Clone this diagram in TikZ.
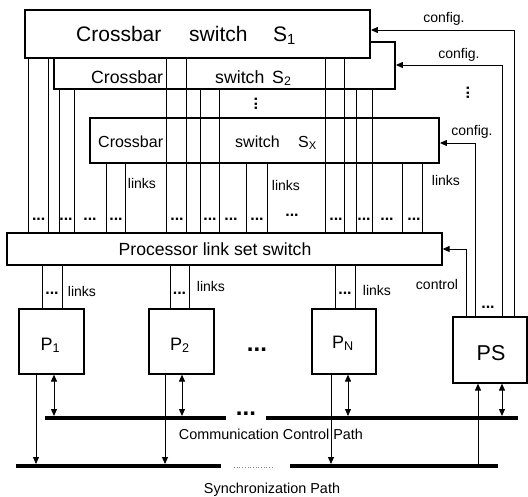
\documentclass[tikz,border=0pt]{standalone}
\usepackage{fontspec}
\setmainfont{Liberation Sans}
\usetikzlibrary{arrows.meta}
\begin{document}
\begin{tikzpicture}[x=1pt,y=-1pt,
  sbox/.style={draw, line width=1.8pt, fill=white, inner sep=0pt},
  pbox/.style={draw, line width=1.2pt, fill=white, inner sep=0pt},
  wire/.style={line width=1pt},
  arr/.style={line width=1pt, -{Triangle[length=7pt,width=6pt]}},
  rarr/.style={line width=1pt, {Triangle[length=7pt,width=6pt]}-},
  darr/.style={line width=1pt, {Triangle[length=7pt,width=6pt]}-{Triangle[length=7pt,width=6pt]}},
  bar/.style={line width=4pt},
  lbl/.style={inner sep=0pt, anchor=base, font=\fontsize{14}{14}\selectfont},
  dotlab/.style={inner sep=0pt, font=\bfseries\fontsize{16}{16}\selectfont},
  bigdots/.style={inner sep=0pt, font=\bfseries\fontsize{24}{24}\selectfont},
]
\useasboundingbox (0,0) rectangle (528,496);

% crossbar switches (back to front)
\node[sbox, minimum width=349pt, minimum height=45pt] (Sx) at (264.5,140.5) {};
\node[sbox, minimum width=341pt, minimum height=47pt] (S2) at (224.5,65.5) {};
\node[sbox, minimum width=345pt, minimum height=48pt] (S1) at (197.5,34) {};

\node[inner sep=0pt, anchor=base west, font=\fontsize{21}{21}\selectfont] (s1a) at (76,41) {Crossbar};
\node[inner sep=0pt, anchor=base west, font=\fontsize{21}{21}\selectfont] (s1b) at (189,41) {switch};
\node[inner sep=0pt, anchor=base west, font=\fontsize{21}{21}\selectfont] (s1c) at (273,41) {S\textsubscript{1}};

\node[inner sep=0pt, anchor=base west, font=\fontsize{17.7}{17.7}\selectfont] (s2a) at (91,83) {Crossbar};
\node[inner sep=0pt, anchor=base west, font=\fontsize{17.7}{17.7}\selectfont] (s2b) at (215,83) {switch};
\node[inner sep=0pt, anchor=base west, font=\fontsize{17.7}{17.7}\selectfont] (s2c) at (272,83) {S\textsubscript{2}};

\node[inner sep=0pt, anchor=base west, font=\fontsize{16}{16}\selectfont] (sxa) at (98,147) {Crossbar};
\node[inner sep=0pt, anchor=base west, font=\fontsize{16}{16}\selectfont] (sxb) at (235,147) {switch};
\node[inner sep=0pt, anchor=base west, font=\fontsize{16}{16}\selectfont] (sxc) at (298,147) {S\textsubscript{X}};

% processor link set switch
\node[pbox, line width=1.3pt, minimum width=435pt, minimum height=32pt] (PL) at (224.5,249) {};
\node[inner sep=0pt, anchor=base, font=\fontsize{17.6}{17.6}\selectfont] (plt) at (215,255) {Processor link set switch};

% links from switches
\foreach \x in {28.6,48.8,166.7,186,325.6,344.4} \draw[wire] (S1.south -| \x,0) -- (PL.north -| \x,0);
\foreach \x in {59,74,200,219,356,372} \draw[wire] (S2.south -| \x,0) -- (PL.north -| \x,0);
\foreach \x in {106,125,246.5,267,402,422} \draw[wire] (Sx.south -| \x,0) -- (PL.north -| \x,0);

\foreach \x/\n in {38.7/a,66/b,90/c,116/d,177/e,210/f,231/g,257/h,336/i,364/j,387/k,414/l}
  \node[dotlab] (dt\n) at (\x,219) {...};
\node[dotlab] (dtm) at (292,215) {...};

\node[lbl] (lk1) at (142,188) {links};
\node[lbl] (lk2) at (286,190) {links};
\node[lbl] (lk3) at (446,185) {links};

% vertical dots
\node[dotlab, rotate=90] (vd1) at (256,104) {...};
\node[dotlab, rotate=90] (vd2) at (468,93) {...};

% processors
\node[pbox, minimum width=65pt, minimum height=65pt] (P1) at (51.5,341.5) {};
\node[pbox, minimum width=65pt, minimum height=65pt] (P2) at (181.5,341.5) {};
\node[pbox, minimum width=64pt, minimum height=65pt] (PN) at (344,341.5) {};
\node[pbox, minimum width=74pt, minimum height=66pt] (PS) at (490,350) {};

\node[inner sep=0pt, anchor=base, font=\fontsize{18}{18}\selectfont] (p1t) at (50.5,350) {P\textsubscript{1}};
\node[inner sep=0pt, anchor=base, font=\fontsize{18}{18}\selectfont] (p2t) at (180,350) {P\textsubscript{2}};
\node[inner sep=0pt, anchor=base, font=\fontsize{18}{18}\selectfont] (pnt) at (343,348) {P\textsubscript{N}};
\node[inner sep=0pt, anchor=base, font=\fontsize{21.5}{21.5}\selectfont] (pst) at (491,360) {PS};
\node[bigdots] (pdots) at (257,350) {...};

% processor links
\foreach \x in {42,62} \draw[wire] (PL.south -| \x,0) -- (P1.north -| \x,0);
\foreach \x in {170,189} \draw[wire] (PL.south -| \x,0) -- (P2.north -| \x,0);
\foreach \x in {335,355} \draw[wire] (PL.south -| \x,0) -- (PN.north -| \x,0);
\node[dotlab] (pd1) at (52,293) {...};
\node[dotlab] (pd2) at (179.5,293) {...};
\node[dotlab] (pdn) at (345,293) {...};
\node[lbl] (pl1) at (82,296) {links};
\node[lbl] (pl2) at (211,291) {links};
\node[lbl] (pln) at (377,295) {links};

% configuration / control from PS
\draw[arr] (PS.north -| 514,0) |- (S1.east |- 0,30);
\draw[arr] (PS.north -| 502,0) |- (S2.east |- 0,65);
\draw[arr] (PS.north -| 475,0) |- (Sx.east |- 0,143);
\draw[arr] (PS.north -| 466,0) |- (PL.east |- 0,249);
\node[lbl] (cf1) at (444,22) {config.};
\node[lbl] (cf2) at (459,58) {config.};
\node[lbl] (cf3) at (472,135) {config.};
\node[lbl] (ctl) at (437,289) {control};
\node[dotlab] (psd) at (488,307) {...};

% paths
\coordinate (cA) at (45,418);
\coordinate (cB) at (226,418);
\coordinate (cC) at (266,418);
\coordinate (cD) at (518,418);
\coordinate (yA) at (16,466);
\coordinate (yB) at (221,466);
\coordinate (yC) at (290,466);
\coordinate (yD) at (498,466);
\coordinate (yE) at (234,467);
\coordinate (yF) at (274,467);
\draw[bar] (cA) -- (cB);
\draw[bar] (cC) -- (cD);
\draw[bar] (yA) -- (yB);
\draw[bar] (yC) -- (yD);
\draw[line width=0.7pt, dotted, gray] (yE) -- (yF);
\node[bigdots] (cdots) at (246,414) {...};

\draw[darr, shorten >=2pt] (P1.south -| 54,0) -- (cA -| 54,0);
\draw[darr, shorten >=2pt] (P2.south -| 182,0) -- (cA -| 182,0);
\draw[darr, shorten >=2pt] (PN.south -| 348,0) -- (cA -| 348,0);
\draw[darr, shorten >=2pt] (PS.south -| 502,0) -- (cA -| 502,0);

\draw[arr, shorten >=2pt] (P1.south -| 36,0) -- (yA -| 36,0);
\draw[arr, shorten >=2pt] (P2.south -| 165,0) -- (yA -| 165,0);
\draw[arr, shorten >=2pt] (PN.south -| 331,0) -- (yA -| 331,0);
\draw[arr, shorten <=2pt] (yA -| 478,0) -- (PS.south -| 478,0);

\node[lbl, font=\fontsize{14.4}{14.4}\selectfont] (ccp) at (271,439) {Communication Control Path};
\node[lbl, font=\fontsize{14.4}{14.4}\selectfont] (syp) at (272,493) {Synchronization Path};
\end{tikzpicture}
\end{document}
